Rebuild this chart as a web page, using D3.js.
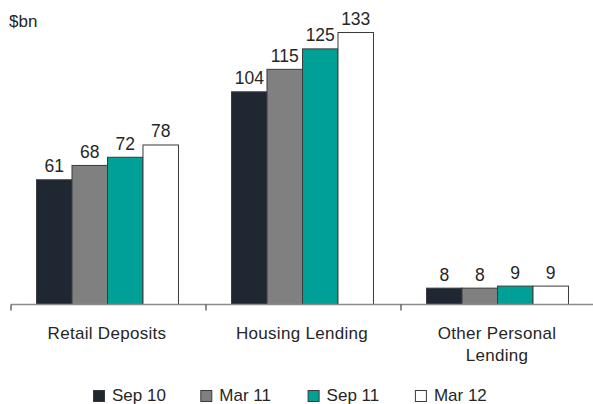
<!DOCTYPE html>
<html>
<head>
<meta charset="utf-8">
<script src="https://cdn.jsdelivr.net/npm/d3@7"></script>
<style>
  html, body { margin: 0; padding: 0; background: #fff; }
  text { font-family: "Liberation Sans", Arial, sans-serif; fill: #262626; }
</style>
</head>
<body>
<script>
const categories = ["Retail Deposits", "Housing Lending", "Other Personal|Lending"];
const seriesNames = ["Sep 10", "Mar 11", "Sep 11", "Mar 12"];
const sep10 = [61, 104, 8];
const mar11 = [68, 115, 8];
const sep11 = [72, 125, 9];
const mar12 = [78, 133, 9];
const seriesColors = ["#1e2732", "#808080", "#00a096", "#ffffff"];
const unitLabel = "$bn";

const seriesValues = [sep10, mar11, sep11, mar12];
const W = 593, H = 404;
const baseY = 304.5;

const svg = d3.select("body").append("svg").attr("width", W).attr("height", H);

const x0 = d3.scaleBand().domain(categories).range([10, 595])
  .paddingInner(0.272).paddingOuter(0.136);
const x1 = d3.scaleBand().domain(seriesNames).range([0, x0.bandwidth()]);
const y = d3.scaleLinear().domain([0, 150]).range([baseY, baseY - 150 * 2.045]);

// unit label
svg.append("text").attr("x", 9).attr("y", 27).attr("font-size", 17).text(unitLabel);

// bars
const groups = svg.selectAll("g.cat").data(categories).enter().append("g")
  .attr("transform", d => `translate(${x0(d)},0)`);

seriesNames.forEach((s, si) => {
  groups.append("rect")
    .attr("x", x1(s))
    .attr("width", x1.bandwidth())
    .attr("y", (d, i) => y(seriesValues[si][i]))
    .attr("height", (d, i) => baseY - y(seriesValues[si][i]))
    .attr("fill", seriesColors[si])
    .attr("stroke", "#3a3a3a")
    .attr("stroke-width", 1);
  groups.append("text")
    .attr("x", x1(s) + x1.bandwidth() / 2)
    .attr("y", (d, i) => y(seriesValues[si][i]) - 7.5)
    .attr("text-anchor", "middle")
    .attr("font-size", 17.5)
    .text((d, i) => seriesValues[si][i]);
});

// axis line
svg.append("line").attr("x1", 11).attr("x2", W).attr("y1", baseY).attr("y2", baseY)
  .attr("stroke", "#8a8a8a").attr("stroke-width", 1.5);
// ticks at category boundaries
const step = x0.step();
const bounds = categories.map((c, i) => 10 + i * step);
svg.selectAll("line.tick").data(bounds).enter().append("line")
  .attr("x1", d => d + 1).attr("x2", d => d + 1)
  .attr("y1", baseY).attr("y2", baseY + 6)
  .attr("stroke", "#444").attr("stroke-width", 1.2);

// category labels
categories.forEach(c => {
  const lines = c.split("|");
  const t = svg.append("text")
    .attr("text-anchor", "middle")
    .attr("font-size", 17)
    .attr("letter-spacing", 0.3)
    .attr("x", x0(c) + x0.bandwidth() / 2 - 0.5)
    .attr("y", 338.5);
  lines.forEach((ln, li) => {
    t.append("tspan").attr("x", x0(c) + x0.bandwidth() / 2 - 0.5)
      .attr("dy", li === 0 ? 0 : 22).text(ln);
  });
});

// legend
const legendX = d3.scaleBand().domain(seriesNames).range([93, 93 + 4 * 107.3]);
const lg = svg.selectAll("g.leg").data(seriesNames).enter().append("g")
  .attr("transform", d => `translate(${legendX(d)},0)`);
lg.append("rect").attr("x", 0.5).attr("y", 390.5).attr("width", 11).attr("height", 11)
  .attr("fill", (d, i) => seriesColors[i]).attr("stroke", "#3a3a3a").attr("stroke-width", 1);
lg.append("text").attr("x", 19).attr("y", 401).attr("font-size", 17)
  .text(d => d);
</script>
</body>
</html>
